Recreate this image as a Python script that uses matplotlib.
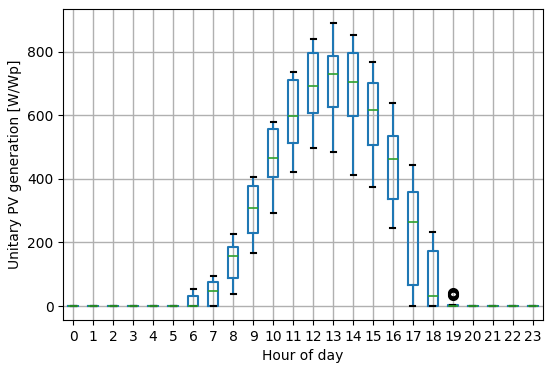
import matplotlib
matplotlib.use("Agg")
import matplotlib.pyplot as plt

hours = list(range(24))
whislo = [0, 0, 0, 0, 0, 0, 0, 0, 37, 166, 294, 421, 498, 485, 412, 375, 246, 0, 0, 0, 0, 0, 0, 0]
q1 =     [0, 0, 0, 0, 0, 0, 0, 0, 87, 231, 406, 513, 606, 625, 597, 505, 337, 67, 0, 0, 0, 0, 0, 0]
med =    [0, 0, 0, 0, 0, 0, 1, 47, 158, 309, 465, 598, 691, 731, 704, 617, 463, 264, 31, 1, 0, 0, 0, 0]
q3 =     [0, 0, 0, 0, 0, 0, 31, 77, 187, 376, 556, 710, 796, 785, 796, 700, 536, 358, 172, 2, 0, 0, 0, 0]
whishi = [0, 0, 0, 0, 0, 0, 54, 94, 225, 406, 580, 735, 840, 889, 851, 768, 638, 442, 234, 3, 0, 0, 0, 0]
fliers = {19: [38, 36, 40]}

stats = []
for i, h in enumerate(hours):
    stats.append(dict(label=str(h), whislo=whislo[i], q1=q1[i], med=med[i],
                      q3=q3[i], whishi=whishi[i], fliers=fliers.get(h, [])))

fig = plt.figure(figsize=(5.5, 3.68), dpi=100)
ax = fig.add_axes([0.115, 0.130, 0.872, 0.845])
blue = '#1f77b4'
ax.bxp(stats, positions=range(1, 25), widths=0.5,
       boxprops=dict(color=blue, linewidth=1.5),
       whiskerprops=dict(color=blue, linewidth=1.5),
       capprops=dict(color='black', linewidth=1.5),
       medianprops=dict(color='#2ca02c', linewidth=1.2),
       flierprops=dict(marker='o', markerfacecolor='none', markeredgecolor='black',
                       markersize=6, markeredgewidth=2))
ax.set_xlim(0.5, 24.5)
ax.set_ylim(-44.5, 933.5)
ax.set_yticks([0, 200, 400, 600, 800])
ax.grid(True, color='#b0b0b0', linewidth=1.0)
ax.set_axisbelow(True)
ax.set_xlabel('Hour of day')
ax.set_ylabel('Unitary PV generation [W/Wp]')
fig.savefig('out.png', dpi=100)
